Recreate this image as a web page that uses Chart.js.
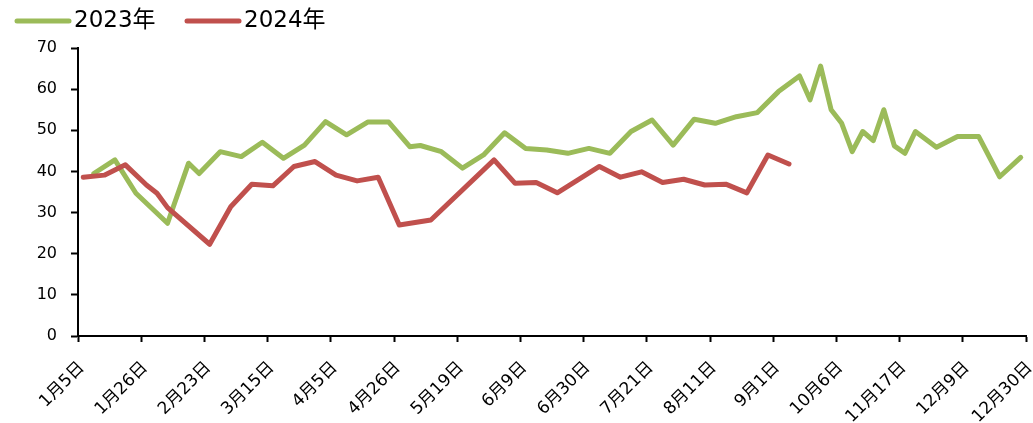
<!DOCTYPE html>
<html lang="zh">
<head>
    <meta charset="UTF-8">
    <title>2023年 vs 2024年</title>
    <style>
        body {
            margin: 0;
            background: #fff;
        }
        #wrap {
            width: 1033px;
            height: 423px;
        }
    </style>
    <script src="https://cdn.jsdelivr.net/npm/chart.js"></script>
</head>
<body>
    <div id="wrap">
        <canvas id="weekChart" width="1033" height="423"></canvas>
    </div>

    <script>
        // x axis labels, one every 6 positions
        var tickLabels = ['1月5日', '1月26日', '2月23日', '3月15日', '4月5日', '4月26日', '5月19日', '6月9日',
            '6月30日', '7月21日', '8月11日', '9月1日', '10月6日', '11月17日', '12月9日', '12月30日'];

        // series names and colours
        var seriesNames = ['2023年', '2024年'];
        var seriesColors = ['#9BBB59', '#C0504D'];

        // 2023: position on the date axis and value
        var pos2023 = [1, 3, 5, 8, 10, 11, 13, 15, 17, 19, 21, 23, 25, 27, 29, 31, 32, 34, 36, 38,
            40, 42, 44, 46, 48, 50, 52, 54, 56, 58, 60, 62, 64, 66, 68, 69, 70, 71, 72, 73,
            74, 75, 76, 77, 78, 79, 81, 83, 85, 87, 89];
        var val2023 = [39.5, 42.8, 34.7, 27.4, 42.0, 39.5, 44.8, 43.6, 47.1, 43.2, 46.4, 52.1, 48.9, 52.0, 52.0, 46.0, 46.3, 44.8, 40.8, 44.0,
            49.4, 45.6, 45.2, 44.4, 45.6, 44.4, 49.7, 52.5, 46.4, 52.7, 51.7, 53.3, 54.3, 59.4, 63.2, 57.4, 65.6, 55.0, 51.7, 44.8,
            49.7, 47.5, 55.0, 46.2, 44.4, 49.7, 45.9, 48.5, 48.5, 38.7, 43.4];

        // 2024: position on the date axis and value
        var pos2024 = [0, 2, 4, 6, 7, 8, 12, 14, 16, 18, 20, 22, 24, 26, 28, 30, 33, 39, 41, 43,
            45, 49, 51, 53, 55, 57, 59, 61, 63, 65, 67];
        var val2024 = [38.6, 39.1, 41.6, 36.7, 34.7, 31.2, 22.3, 31.4, 36.9, 36.5, 41.2, 42.4, 39.1, 37.7, 38.6, 27.0, 28.2, 42.8, 37.1, 37.3,
            34.8, 41.2, 38.6, 39.9, 37.3, 38.1, 36.7, 36.9, 34.8, 44.0, 41.8];

        function toPoints(xs, ys) {
            return xs.map(function (x, i) { return { x: x, y: ys[i] }; });
        }

        var fontFamily = "'DejaVu Sans', 'Noto Sans CJK SC', sans-serif";

        // legend drawn at the top left, line sample then text
        var topLegend = {
            id: 'topLegend',
            afterDraw: function (chart) {
                var ctx = chart.ctx;
                var starts = [15, 185];
                ctx.save();
                ctx.font = '23px ' + fontFamily;
                ctx.textBaseline = 'middle';
                ctx.lineCap = 'round';
                ctx.lineWidth = 5;
                chart.data.datasets.forEach(function (ds) {
                    var x0 = starts[ds.legendIndex];
                    ctx.strokeStyle = ds.borderColor;
                    ctx.beginPath();
                    ctx.moveTo(x0 + 2, 21);
                    ctx.lineTo(x0 + 54, 21);
                    ctx.stroke();
                    ctx.fillStyle = '#000';
                    ctx.fillText(ds.label, x0 + 59, 21);
                });
                ctx.restore();
            }
        };

        var ctx = document.getElementById('weekChart').getContext('2d');
        var weekChart = new Chart(ctx, {
            type: 'line',
            data: {
                datasets: [{
                    label: seriesNames[0],
                    legendIndex: 0,
                    data: toPoints(pos2023, val2023),
                    borderColor: seriesColors[0],
                    backgroundColor: seriesColors[0],
                    order: 1
                }, {
                    label: seriesNames[1],
                    legendIndex: 1,
                    data: toPoints(pos2024, val2024),
                    borderColor: seriesColors[1],
                    backgroundColor: seriesColors[1],
                    order: 0
                }]
            },
            options: {
                responsive: false,
                animation: false,
                layout: {
                    padding: { left: 0, right: 7, top: 48, bottom: 0 }
                },
                elements: {
                    line: { borderWidth: 5, tension: 0, borderCapStyle: 'round', borderJoinStyle: 'round' },
                    point: { radius: 0 }
                },
                plugins: {
                    legend: { display: false },
                    tooltip: { enabled: false }
                },
                scales: {
                    x: {
                        type: 'linear',
                        min: -0.5,
                        max: 89.5,
                        afterBuildTicks: function (scale) {
                            scale.ticks = tickLabels.map(function (t, i) { return { value: -0.5 + i * 6 }; });
                        },
                        afterFit: function (scale) {
                            scale.height = 87;
                            scale.paddingLeft = 0;
                            scale.paddingRight = 0;
                        },
                        border: { color: '#000', width: 2 },
                        grid: { drawOnChartArea: false, tickLength: 6, tickWidth: 2, color: '#000' },
                        ticks: {
                            autoSkip: false,
                            minRotation: 45,
                            maxRotation: 45,
                            labelOffset: 4,
                            padding: 16,
                            color: '#000',
                            font: { family: fontFamily, size: 17 },
                            callback: function (v, i) { return tickLabels[i]; }
                        }
                    },
                    y: {
                        min: 0,
                        max: 70,
                        afterFit: function (scale) { scale.width = 78; },
                        border: { color: '#000', width: 2 },
                        grid: { drawOnChartArea: false, tickLength: 7, tickWidth: 2, color: '#000' },
                        ticks: {
                            stepSize: 10,
                            padding: 14,
                            color: '#000',
                            font: { family: fontFamily, size: 16 }
                        }
                    }
                }
            },
            plugins: [topLegend]
        });
    </script>
</body>
</html>
